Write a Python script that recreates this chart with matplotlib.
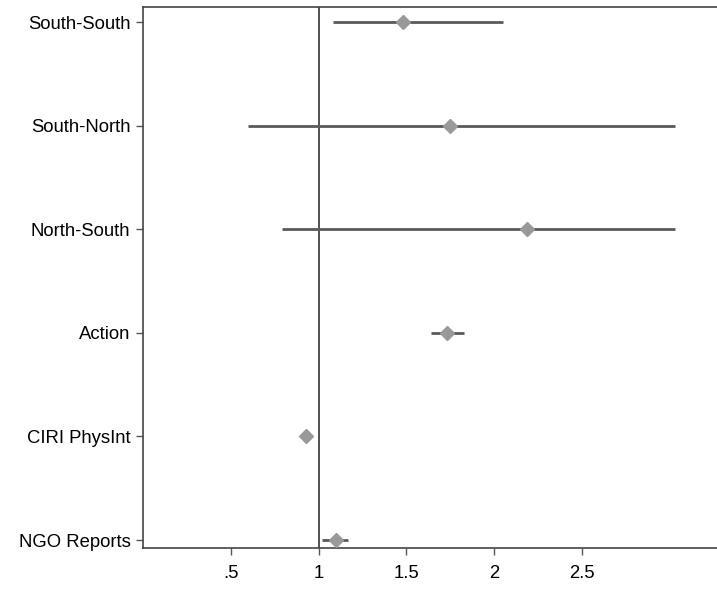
import matplotlib
matplotlib.use("Agg")
import matplotlib.pyplot as plt

labels = ["NGO Reports", "CIRI PhysInt", "Action", "North-South", "South-North", "South-South"]
estimates = [1.10, 0.93, 1.73, 2.19, 1.75, 1.48]
ci_low = [1.02, 0.92, 1.64, 0.79, 0.60, 1.08]
ci_high = [1.17, 0.94, 1.83, 3.03, 3.03, 2.05]
xtick_vals = [0.5, 1, 1.5, 2, 2.5]
xtick_labels = [".5", "1", "1.5", "2", "2.5"]

plt.rcParams['font.family'] = ['Liberation Sans', 'DejaVu Sans']

fig = plt.figure(figsize=(7.17, 5.91), dpi=100)
ax = fig.add_axes([143/717, 1 - 548/591, 1 - 143/717, (548 - 7)/591])

ypos = list(range(len(labels)))
ax.axvline(1, color="#333333", lw=1.2, zorder=1)
ax.hlines(ypos, ci_low, ci_high, color="#5a5a5a", lw=2.0, zorder=2)
ax.plot(estimates, ypos, linestyle="none", marker="D", markersize=7.5,
        color="#999999", zorder=3)

ax.set_xlim(0, 3.27)
ax.set_ylim(-0.077, 5.145)
ax.set_yticks(ypos)
ax.set_yticklabels(labels, fontsize=13.3)
ax.set_xticks(xtick_vals)
ax.set_xticklabels(xtick_labels, fontsize=13.3)
ax.tick_params(axis="both", length=5, width=1, color="#555555", pad=4)
ax.tick_params(axis="x", pad=7)
for s in ["left", "top", "bottom"]:
    ax.spines[s].set_color("#444444")
    ax.spines[s].set_linewidth(1.2)
ax.spines["right"].set_visible(False)

fig.savefig("out.png", dpi=100)
